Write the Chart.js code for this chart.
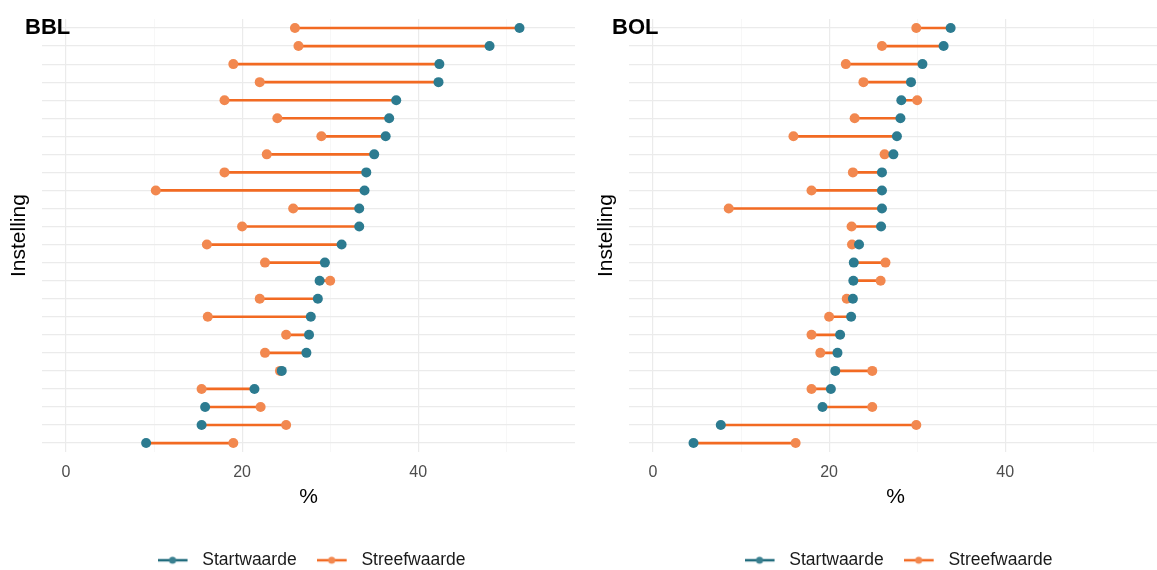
<!DOCTYPE html>
<html>
<head>
<meta charset="utf-8">
<script src="https://cdn.jsdelivr.net/npm/chart.js"></script>
<style>
  body { margin: 0; background: #fff; width: 1157px; height: 570px; overflow: hidden; position: relative; }
  .panel { position: absolute; top: 0; width: 580px; height: 570px; }
</style>
</head>
<body>
<div class="panel" style="left:0"><canvas id="bbl" width="580" height="570"></canvas></div>
<div class="panel" style="left:587px"><canvas id="bol" width="580" height="570"></canvas></div>
<script>
// rijen (instellingen), van boven naar beneden
const rows = ["1", "2", "3", "4", "5", "6", "7", "8", "9", "10", "11", "12",
  "13", "14", "15", "16", "17", "18", "19", "20", "21", "22", "23", "24"];

// BBL
const bblStart = [51.5, 48.1, 42.4, 42.3, 37.5, 36.7, 36.3, 35.0, 34.1, 33.9, 33.3, 33.3,
  31.3, 29.4, 28.8, 28.6, 27.8, 27.6, 27.3, 24.5, 21.4, 15.8, 15.4, 9.1];
const bblTarget = [26.0, 26.4, 19.0, 22.0, 18.0, 24.0, 29.0, 22.8, 18.0, 10.2, 25.8, 20.0,
  16.0, 22.6, 30.0, 22.0, 16.1, 25.0, 22.6, 24.3, 15.4, 22.1, 25.0, 19.0];

// BOL
const bolStart = [33.8, 33.0, 30.6, 29.3, 28.2, 28.1, 27.7, 27.3, 26.0, 26.0, 26.0, 25.9,
  23.4, 22.8, 22.75, 22.7, 22.5, 21.25, 20.95, 20.7, 20.2, 19.25, 7.7, 4.6];
const bolTarget = [29.9, 26.0, 21.9, 23.9, 30.0, 22.9, 15.95, 26.3, 22.7, 18.0, 8.6, 22.55,
  22.6, 26.4, 25.85, 22.0, 20.0, 18.0, 19.0, 24.9, 18.0, 24.9, 29.9, 16.2];

const xTicks = [0, 20, 40];

const BLUE = "#2c7b90";
const BLUE_KEY = "#1f6b7c";
const ORANGE_DOT = "#f2884f";
const ORANGE_LINE = "#f26a22";
const FONT = "'Liberation Sans', Arial, sans-serif";

// legenda-sleutel: lijntje met stip
function legendKey(lineColor, dotColor) {
  const c = document.createElement("canvas");
  c.width = 36; c.height = 12;
  const g = c.getContext("2d");
  g.strokeStyle = lineColor; g.lineWidth = 2.5;
  g.beginPath(); g.moveTo(0, 6); g.lineTo(30, 6); g.stroke();
  g.fillStyle = dotColor;
  g.beginPath(); g.arc(15, 6, 3.5, 0, Math.PI * 2); g.fill();
  return c;
}
const keyStart = legendKey(BLUE_KEY, "#3a8090");
const keyTarget = legendKey(ORANGE_LINE, ORANGE_DOT);

const panelTitle = {
  id: "panelTitle",
  afterDraw(chart, args, opts) {
    const ctx = chart.ctx;
    ctx.save();
    ctx.font = "bold 22px " + FONT;
    ctx.fillStyle = "#000";
    ctx.textBaseline = "alphabetic";
    ctx.fillText(opts.text, 25, 34);
    ctx.restore();
  }
};

const legendShift = {
  id: "legendShift",
  afterLayout(chart) {
    const lg = chart.legend;
    lg.left += 24; lg.right += 24;
    lg.top += 9; lg.bottom += 9;
  }
};

function makeChart(id, title, start, target) {
  new Chart(document.getElementById(id), {
    type: "bar",
    data: {
      labels: rows,
      datasets: [
        {
          label: "Startwaarde",
          type: "line",
          indexAxis: "y",
          data: start,
          showLine: false,
          pointRadius: 5,
          pointBackgroundColor: BLUE,
          pointBorderColor: BLUE,
          pointBorderWidth: 0,
          borderColor: BLUE,
          backgroundColor: BLUE,
          order: 0
        },
        {
          label: "Streefwaarde",
          type: "line",
          indexAxis: "y",
          data: target,
          showLine: false,
          pointRadius: 5,
          pointBackgroundColor: ORANGE_DOT,
          pointBorderColor: ORANGE_DOT,
          pointBorderWidth: 0,
          borderColor: ORANGE_LINE,
          backgroundColor: ORANGE_DOT,
          order: 1
        },
        {
          label: "segment",
          data: start.map((s, i) => [s, target[i]]),
          backgroundColor: ORANGE_LINE,
          borderWidth: 0,
          barThickness: 2,
          order: 2
        }
      ]
    },
    options: {
      indexAxis: "y",
      responsive: false,
      animation: false,
      layout: { padding: { top: 19, right: 5, left: 0, bottom: 0 } },
      scales: {
        x: {
          type: "linear",
          min: -2.7,
          max: 57.8,
          border: { display: false },
          grid: {
            drawTicks: false,
            color: (c) => (c.tick && xTicks.includes(c.tick.value)) ? "#ebebeb" : "#f5f5f5",
            lineWidth: (c) => (c.tick && xTicks.includes(c.tick.value)) ? 1.2 : 0.8
          },
          ticks: {
            stepSize: 10,
            includeBounds: false,
            padding: 11,
            color: "#4d4d4d",
            font: { family: FONT, size: 16 },
            callback: (v) => xTicks.includes(v) ? String(v) : ""
          },
          title: {
            display: true,
            text: "%",
            color: "#000",
            font: { family: FONT, size: 21 },
            padding: { top: -9, bottom: 13 }
          }
        },
        y: {
          type: "category",
          offset: true,
          border: { display: false },
          grid: { offset: false, drawTicks: false, color: "#ebebeb", lineWidth: 1.2 },
          ticks: { display: false },
          title: {
            display: true,
            text: "Instelling",
            color: "#000",
            font: { family: FONT, size: 21 },
            padding: { top: 7, bottom: 10 }
          }
        }
      },
      plugins: {
        tooltip: { enabled: false },
        panelTitle: { text: title },
        legend: {
          position: "bottom",
          labels: {
            usePointStyle: true,
            pointStyleWidth: 36,
            padding: 20,
            color: "#1a1a1a",
            font: { family: FONT, size: 17.5 },
            filter: (item) => item.datasetIndex < 2,
            generateLabels(chart) {
              const items = Chart.defaults.plugins.legend.labels.generateLabels(chart);
              items.forEach((it) => {
                if (it.datasetIndex === 0) it.pointStyle = keyStart;
                if (it.datasetIndex === 1) it.pointStyle = keyTarget;
              });
              return items;
            }
          }
        }
      }
    },
    plugins: [panelTitle, legendShift]
  });
}

makeChart("bbl", "BBL", bblStart, bblTarget);
makeChart("bol", "BOL", bolStart, bolTarget);
</script>
</body>
</html>
